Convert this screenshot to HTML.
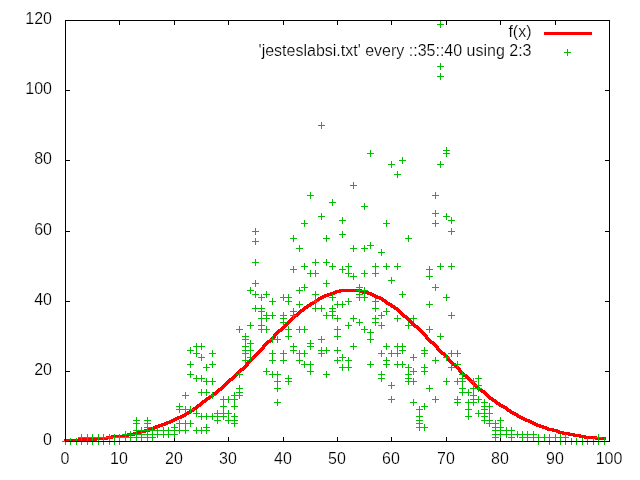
<!DOCTYPE html>
<html><head><meta charset="utf-8"><title>gnuplot</title>
<style>
html,body{margin:0;padding:0;background:#fff;}
body{width:640px;height:480px;overflow:hidden;position:relative;font-family:"Liberation Sans",sans-serif;}
svg{position:absolute;left:0;top:0;display:block;}
text{font-family:"Liberation Sans",sans-serif;font-size:16px;fill:#000;stroke:#fff;stroke-width:0.2px;}
</style></head><body>
<svg width="640" height="480" viewBox="0 0 640 480">
<rect x="0" y="0" width="640" height="480" fill="#fff"/>
<path d="M65.5 441v-4M65.5 21v4M119.5 441v-4M119.5 21v4M174.5 441v-4M174.5 21v4M228.5 441v-4M228.5 21v4M283.5 441v-4M283.5 21v4M337.5 441v-4M337.5 21v4M391.5 441v-4M391.5 21v4M446.5 441v-4M446.5 21v4M500.5 441v-4M500.5 21v4M555.5 441v-4M555.5 21v4M609.5 441v-4M609.5 21v4M66 441.5h4M609 441.5h-4M66 371.5h4M609 371.5h-4M66 301.5h4M609 301.5h-4M66 231.5h4M609 231.5h-4M66 160.5h4M609 160.5h-4M66 90.5h4M609 90.5h-4M66 20.5h4M609 20.5h-4" fill="none" stroke="#000" stroke-width="1" shape-rendering="crispEdges"/>
<path d="M339 289.5h23M335 290.5h29M333 291.5h36M330 292.5h11M360 292.5h12M327 293.5h10M362 293.5h12M324 294.5h11M367 294.5h9M322 295.5h10M370 295.5h8M320 296.5h9M372 296.5h9M318 297.5h8M374 297.5h9M317 298.5h7M376 298.5h8M315 299.5h7M379 299.5h7M314 300.5h6M381 300.5h6M312 301.5h7M382 301.5h6M310 302.5h7M384 302.5h6M309 303.5h7M385 303.5h7M307 304.5h7M386 304.5h7M306 305.5h6M388 305.5h7M304 306.5h7M390 306.5h6M303 307.5h6M391 307.5h7M302 308.5h6M393 308.5h6M300 309.5h6M394 309.5h6M299 310.5h6M396 310.5h5M298 311.5h6M397 311.5h5M297 312.5h5M398 312.5h5M296 313.5h5M399 313.5h5M294 314.5h6M400 314.5h5M293 315.5h6M401 315.5h6M292 316.5h6M402 316.5h6M291 317.5h5M403 317.5h6M290 318.5h5M405 318.5h5M289 319.5h5M406 319.5h5M288 320.5h5M407 320.5h5M287 321.5h5M408 321.5h5M286 322.5h5M409 322.5h5M285 323.5h5M410 323.5h5M284 324.5h5M411 324.5h5M283 325.5h5M412 325.5h6M282 326.5h5M413 326.5h6M281 327.5h5M414 327.5h6M280 328.5h5M416 328.5h5M278 329.5h6M417 329.5h5M277 330.5h6M418 330.5h5M276 331.5h6M419 331.5h5M275 332.5h5M420 332.5h5M274 333.5h5M421 333.5h5M273 334.5h5M422 334.5h5M273 335.5h4M423 335.5h5M272 336.5h4M424 336.5h4M271 337.5h5M425 337.5h4M270 338.5h5M425 338.5h5M269 339.5h5M426 339.5h5M267 340.5h6M427 340.5h5M266 341.5h6M428 341.5h6M265 342.5h6M429 342.5h6M264 343.5h5M430 343.5h6M263 344.5h5M432 344.5h5M262 345.5h5M433 345.5h5M262 346.5h4M434 346.5h5M261 347.5h4M435 347.5h4M260 348.5h5M436 348.5h4M259 349.5h5M436 349.5h5M258 350.5h5M437 350.5h5M257 351.5h5M438 351.5h5M256 352.5h5M439 352.5h6M255 353.5h5M440 353.5h6M254 354.5h5M441 354.5h6M253 355.5h5M443 355.5h5M252 356.5h5M444 356.5h5M251 357.5h5M445 357.5h5M250 358.5h5M446 358.5h4M249 359.5h5M447 359.5h4M248 360.5h5M447 360.5h5M247 361.5h5M448 361.5h5M246 362.5h5M449 362.5h5M246 363.5h4M450 363.5h6M245 364.5h4M451 364.5h6M244 365.5h5M452 365.5h6M243 366.5h5M454 366.5h5M242 367.5h5M455 367.5h5M240 368.5h6M456 368.5h5M239 369.5h6M457 369.5h4M238 370.5h6M458 370.5h4M237 371.5h5M458 371.5h5M236 372.5h5M459 372.5h5M235 373.5h5M460 373.5h5M234 374.5h5M461 374.5h6M233 375.5h5M462 375.5h6M232 376.5h5M463 376.5h6M231 377.5h5M465 377.5h5M229 378.5h6M466 378.5h5M228 379.5h6M467 379.5h5M227 380.5h6M468 380.5h5M226 381.5h5M469 381.5h5M225 382.5h5M470 382.5h5M224 383.5h5M471 383.5h5M223 384.5h5M472 384.5h5M222 385.5h5M473 385.5h5M221 386.5h5M474 386.5h5M220 387.5h5M475 387.5h5M218 388.5h6M476 388.5h6M217 389.5h6M477 389.5h6M216 390.5h6M478 390.5h7M215 391.5h5M480 391.5h6M213 392.5h6M481 392.5h6M212 393.5h6M483 393.5h5M211 394.5h6M484 394.5h5M209 395.5h6M485 395.5h5M208 396.5h6M486 396.5h5M206 397.5h7M487 397.5h6M205 398.5h6M488 398.5h6M204 399.5h6M489 399.5h7M202 400.5h6M491 400.5h6M201 401.5h6M492 401.5h6M200 402.5h6M494 402.5h6M199 403.5h5M495 403.5h6M197 404.5h6M496 404.5h7M196 405.5h6M498 405.5h7M195 406.5h6M499 406.5h8M193 407.5h6M501 407.5h7M192 408.5h6M503 408.5h6M190 409.5h7M505 409.5h6M189 410.5h6M506 410.5h6M187 411.5h7M507 411.5h7M185 412.5h7M509 412.5h7M184 413.5h7M510 413.5h8M182 414.5h7M512 414.5h7M180 415.5h7M514 415.5h7M177 416.5h9M516 416.5h7M175 417.5h9M517 417.5h8M173 418.5h9M519 418.5h8M171 419.5h8M521 419.5h9M169 420.5h8M523 420.5h9M166 421.5h9M525 421.5h9M164 422.5h9M528 422.5h8M161 423.5h10M530 423.5h8M158 424.5h10M532 424.5h9M155 425.5h11M534 425.5h10M153 426.5h10M536 426.5h11M150 427.5h10M539 427.5h10M148 428.5h9M542 428.5h12M144 429.5h11M545 429.5h13M139 430.5h13M547 430.5h13M137 431.5h13M552 431.5h12M133 432.5h13M556 432.5h14M127 433.5h14M558 433.5h17M122 434.5h17M562 434.5h19M111 435.5h24M568 435.5h18M106 436.5h23M573 436.5h24M95 437.5h29M579 437.5h27M78 438.5h35M584 438.5h22M64 439.5h44M595 439.5h11M64 440.5h33M64 441.5h16" fill="none" stroke="#ff0000" stroke-width="1" shape-rendering="crispEdges"/>
<rect x="544" y="32" width="48" height="3" fill="#ff0000" shape-rendering="crispEdges"/>
<path d="M62 441.5h7M65.5 438v7M67 441.5h7M70.5 438v7M73 441.5h7M76.5 438v7M78 441.5h7M81.5 438v7M78 437.5h7M81.5 434v7M84 441.5h7M87.5 438v7M84 437.5h7M87.5 434v7M89 441.5h7M92.5 438v7M89 437.5h7M92.5 434v7M95 441.5h7M98.5 438v7M95 437.5h7M98.5 434v7M100 441.5h7M103.5 438v7M100 437.5h7M103.5 434v7M106 441.5h7M109.5 438v7M106 437.5h7M109.5 434v7M111 441.5h7M114.5 438v7M111 437.5h7M114.5 434v7M116 441.5h7M119.5 438v7M116 437.5h7M119.5 434v7M122 437.5h7M125.5 434v7M122 434.5h7M125.5 431v7M127 437.5h7M130.5 434v7M127 434.5h7M130.5 431v7M133 437.5h7M136.5 434v7M133 434.5h7M136.5 431v7M133 430.5h7M136.5 427v7M133 423.5h7M136.5 420v7M133 420.5h7M136.5 417v7M138 437.5h7M141.5 434v7M138 434.5h7M141.5 431v7M138 430.5h7M141.5 427v7M144 437.5h7M147.5 434v7M144 434.5h7M147.5 431v7M144 430.5h7M147.5 427v7M144 427.5h7M147.5 424v7M144 423.5h7M147.5 420v7M144 420.5h7M147.5 417v7M149 437.5h7M152.5 434v7M149 434.5h7M152.5 431v7M149 430.5h7M152.5 427v7M154 434.5h7M157.5 431v7M154 430.5h7M157.5 427v7M160 434.5h7M163.5 431v7M160 430.5h7M163.5 427v7M165 434.5h7M168.5 431v7M165 430.5h7M168.5 427v7M171 434.5h7M174.5 431v7M171 430.5h7M174.5 427v7M171 427.5h7M174.5 424v7M176 430.5h7M179.5 427v7M176 423.5h7M179.5 420v7M176 409.5h7M179.5 406v7M176 406.5h7M179.5 403v7M182 430.5h7M185.5 427v7M182 423.5h7M185.5 420v7M182 409.5h7M185.5 406v7M182 395.5h7M185.5 392v7M187 423.5h7M190.5 420v7M187 409.5h7M190.5 406v7M187 374.5h7M190.5 371v7M187 364.5h7M190.5 361v7M187 350.5h7M190.5 347v7M193 430.5h7M196.5 427v7M193 413.5h7M196.5 410v7M193 378.5h7M196.5 375v7M193 353.5h7M196.5 350v7M193 346.5h7M196.5 343v7M198 430.5h7M201.5 427v7M198 416.5h7M201.5 413v7M198 392.5h7M201.5 389v7M198 378.5h7M201.5 375v7M198 357.5h7M201.5 354v7M198 346.5h7M201.5 343v7M203 430.5h7M206.5 427v7M203 427.5h7M206.5 424v7M203 416.5h7M206.5 413v7M203 392.5h7M206.5 389v7M203 381.5h7M206.5 378v7M203 367.5h7M206.5 364v7M209 416.5h7M212.5 413v7M209 395.5h7M212.5 392v7M209 381.5h7M212.5 378v7M209 364.5h7M212.5 361v7M209 353.5h7M212.5 350v7M214 420.5h7M217.5 417v7M214 416.5h7M217.5 413v7M214 413.5h7M217.5 410v7M220 416.5h7M223.5 413v7M220 413.5h7M223.5 410v7M220 406.5h7M223.5 403v7M220 399.5h7M223.5 396v7M225 420.5h7M228.5 417v7M225 413.5h7M228.5 410v7M225 399.5h7M228.5 396v7M231 423.5h7M234.5 420v7M231 420.5h7M234.5 417v7M231 416.5h7M234.5 413v7M231 406.5h7M234.5 403v7M231 399.5h7M234.5 396v7M231 395.5h7M234.5 392v7M236 395.5h7M239.5 392v7M236 392.5h7M239.5 389v7M236 388.5h7M239.5 385v7M236 374.5h7M239.5 371v7M236 329.5h7M239.5 326v7M242 360.5h7M245.5 357v7M242 353.5h7M245.5 350v7M242 350.5h7M245.5 347v7M242 346.5h7M245.5 343v7M242 339.5h7M245.5 336v7M242 336.5h7M245.5 333v7M247 357.5h7M250.5 354v7M247 350.5h7M250.5 347v7M247 343.5h7M250.5 340v7M247 325.5h7M250.5 322v7M247 290.5h7M250.5 287v7M252 308.5h7M255.5 305v7M252 294.5h7M255.5 291v7M252 283.5h7M255.5 280v7M252 262.5h7M255.5 259v7M252 241.5h7M255.5 238v7M252 231.5h7M255.5 228v7M258 329.5h7M261.5 326v7M258 325.5h7M261.5 322v7M258 318.5h7M261.5 315v7M258 311.5h7M261.5 308v7M258 308.5h7M261.5 305v7M258 297.5h7M261.5 294v7M263 371.5h7M266.5 368v7M263 329.5h7M266.5 326v7M263 318.5h7M266.5 315v7M263 315.5h7M266.5 312v7M263 294.5h7M266.5 291v7M269 374.5h7M272.5 371v7M269 360.5h7M272.5 357v7M269 353.5h7M272.5 350v7M269 339.5h7M272.5 336v7M269 315.5h7M272.5 312v7M269 301.5h7M272.5 298v7M274 402.5h7M277.5 399v7M274 388.5h7M277.5 385v7M274 381.5h7M277.5 378v7M274 374.5h7M277.5 371v7M274 339.5h7M277.5 336v7M280 360.5h7M283.5 357v7M280 353.5h7M283.5 350v7M280 322.5h7M283.5 319v7M280 318.5h7M283.5 315v7M280 315.5h7M283.5 312v7M280 297.5h7M283.5 294v7M285 381.5h7M288.5 378v7M285 378.5h7M288.5 375v7M285 336.5h7M288.5 333v7M285 329.5h7M288.5 326v7M285 301.5h7M288.5 298v7M285 297.5h7M288.5 294v7M290 350.5h7M293.5 347v7M290 346.5h7M293.5 343v7M290 315.5h7M293.5 312v7M290 311.5h7M293.5 308v7M290 269.5h7M293.5 266v7M290 238.5h7M293.5 235v7M296 360.5h7M299.5 357v7M296 353.5h7M299.5 350v7M296 329.5h7M299.5 326v7M296 304.5h7M299.5 301v7M296 290.5h7M299.5 287v7M296 248.5h7M299.5 245v7M301 364.5h7M304.5 361v7M301 353.5h7M304.5 350v7M301 329.5h7M304.5 326v7M301 287.5h7M304.5 284v7M301 266.5h7M304.5 263v7M301 223.5h7M304.5 220v7M307 371.5h7M310.5 368v7M307 364.5h7M310.5 361v7M307 346.5h7M310.5 343v7M307 343.5h7M310.5 340v7M307 273.5h7M310.5 270v7M307 195.5h7M310.5 192v7M312 308.5h7M315.5 305v7M312 301.5h7M315.5 298v7M312 294.5h7M315.5 291v7M312 273.5h7M315.5 270v7M312 262.5h7M315.5 259v7M318 353.5h7M321.5 350v7M318 350.5h7M321.5 347v7M318 339.5h7M321.5 336v7M318 308.5h7M321.5 305v7M318 216.5h7M321.5 213v7M318 125.5h7M321.5 122v7M323 374.5h7M326.5 371v7M323 350.5h7M326.5 347v7M323 315.5h7M326.5 312v7M323 283.5h7M326.5 280v7M323 262.5h7M326.5 259v7M323 238.5h7M326.5 235v7M329 315.5h7M332.5 312v7M329 311.5h7M332.5 308v7M329 308.5h7M332.5 305v7M329 297.5h7M332.5 294v7M329 266.5h7M332.5 263v7M329 202.5h7M332.5 199v7M334 360.5h7M337.5 357v7M334 350.5h7M337.5 347v7M334 336.5h7M337.5 333v7M334 329.5h7M337.5 326v7M334 318.5h7M337.5 315v7M334 304.5h7M337.5 301v7M339 367.5h7M342.5 364v7M339 357.5h7M342.5 354v7M339 304.5h7M342.5 301v7M339 269.5h7M342.5 266v7M339 234.5h7M342.5 231v7M339 220.5h7M342.5 217v7M345 367.5h7M348.5 364v7M345 360.5h7M348.5 357v7M345 325.5h7M348.5 322v7M345 301.5h7M348.5 298v7M345 273.5h7M348.5 270v7M345 266.5h7M348.5 263v7M350 346.5h7M353.5 343v7M350 318.5h7M353.5 315v7M350 276.5h7M353.5 273v7M350 248.5h7M353.5 245v7M350 185.5h7M353.5 182v7M356 322.5h7M359.5 319v7M356 297.5h7M359.5 294v7M356 294.5h7M359.5 291v7M356 290.5h7M359.5 287v7M356 287.5h7M359.5 284v7M361 329.5h7M364.5 326v7M361 297.5h7M364.5 294v7M361 290.5h7M364.5 287v7M361 273.5h7M364.5 270v7M361 248.5h7M364.5 245v7M361 206.5h7M364.5 203v7M367 364.5h7M370.5 361v7M367 339.5h7M370.5 336v7M367 332.5h7M370.5 329v7M367 245.5h7M370.5 242v7M367 153.5h7M370.5 150v7M372 322.5h7M375.5 319v7M372 318.5h7M375.5 315v7M372 308.5h7M375.5 305v7M372 301.5h7M375.5 298v7M372 273.5h7M375.5 270v7M372 266.5h7M375.5 263v7M378 378.5h7M381.5 375v7M378 374.5h7M381.5 371v7M378 353.5h7M381.5 350v7M378 325.5h7M381.5 322v7M378 315.5h7M381.5 312v7M378 252.5h7M381.5 249v7M383 364.5h7M386.5 361v7M383 360.5h7M386.5 357v7M383 346.5h7M386.5 343v7M383 311.5h7M386.5 308v7M383 266.5h7M386.5 263v7M383 223.5h7M386.5 220v7M388 399.5h7M391.5 396v7M388 385.5h7M391.5 382v7M388 353.5h7M391.5 350v7M388 280.5h7M391.5 277v7M388 164.5h7M391.5 161v7M394 364.5h7M397.5 361v7M394 353.5h7M397.5 350v7M394 346.5h7M397.5 343v7M394 318.5h7M397.5 315v7M394 266.5h7M397.5 263v7M394 174.5h7M397.5 171v7M399 364.5h7M402.5 361v7M399 350.5h7M402.5 347v7M399 346.5h7M402.5 343v7M399 294.5h7M402.5 291v7M399 160.5h7M402.5 157v7M405 381.5h7M408.5 378v7M405 378.5h7M408.5 375v7M405 374.5h7M408.5 371v7M405 367.5h7M408.5 364v7M405 325.5h7M408.5 322v7M405 238.5h7M408.5 235v7M410 402.5h7M413.5 399v7M410 381.5h7M413.5 378v7M410 371.5h7M413.5 368v7M410 357.5h7M413.5 354v7M410 318.5h7M413.5 315v7M416 427.5h7M419.5 424v7M416 423.5h7M419.5 420v7M416 420.5h7M419.5 417v7M416 416.5h7M419.5 413v7M416 409.5h7M419.5 406v7M421 427.5h7M424.5 424v7M421 406.5h7M424.5 403v7M421 371.5h7M424.5 368v7M421 367.5h7M424.5 364v7M421 353.5h7M424.5 350v7M421 350.5h7M424.5 347v7M426 388.5h7M429.5 385v7M426 329.5h7M429.5 326v7M426 304.5h7M429.5 301v7M426 276.5h7M429.5 273v7M426 269.5h7M429.5 266v7M432 399.5h7M435.5 396v7M432 360.5h7M435.5 357v7M432 287.5h7M435.5 284v7M432 223.5h7M435.5 220v7M432 213.5h7M435.5 210v7M432 195.5h7M435.5 192v7M437 336.5h7M440.5 333v7M437 266.5h7M440.5 263v7M437 164.5h7M440.5 161v7M437 76.5h7M440.5 73v7M437 66.5h7M440.5 63v7M437 24.5h7M440.5 21v7M443 381.5h7M446.5 378v7M443 357.5h7M446.5 354v7M443 297.5h7M446.5 294v7M443 216.5h7M446.5 213v7M443 153.5h7M446.5 150v7M443 150.5h7M446.5 147v7M448 367.5h7M451.5 364v7M448 353.5h7M451.5 350v7M448 315.5h7M451.5 312v7M448 266.5h7M451.5 263v7M448 231.5h7M451.5 228v7M448 220.5h7M451.5 217v7M454 402.5h7M457.5 399v7M454 399.5h7M457.5 396v7M454 381.5h7M457.5 378v7M454 364.5h7M457.5 361v7M454 353.5h7M457.5 350v7M459 392.5h7M462.5 389v7M459 388.5h7M462.5 385v7M459 381.5h7M462.5 378v7M459 378.5h7M462.5 375v7M459 374.5h7M462.5 371v7M465 416.5h7M468.5 413v7M465 409.5h7M468.5 406v7M465 402.5h7M468.5 399v7M465 392.5h7M468.5 389v7M470 402.5h7M473.5 399v7M470 399.5h7M473.5 396v7M470 395.5h7M473.5 392v7M470 388.5h7M473.5 385v7M470 381.5h7M473.5 378v7M475 413.5h7M478.5 410v7M475 399.5h7M478.5 396v7M475 388.5h7M478.5 385v7M475 385.5h7M478.5 382v7M475 378.5h7M478.5 375v7M481 420.5h7M484.5 417v7M481 416.5h7M484.5 413v7M481 413.5h7M484.5 410v7M481 409.5h7M484.5 406v7M481 406.5h7M484.5 403v7M481 402.5h7M484.5 399v7M486 423.5h7M489.5 420v7M486 420.5h7M489.5 417v7M486 413.5h7M489.5 410v7M486 406.5h7M489.5 403v7M492 437.5h7M495.5 434v7M492 434.5h7M495.5 431v7M492 430.5h7M495.5 427v7M492 427.5h7M495.5 424v7M492 423.5h7M495.5 420v7M497 434.5h7M500.5 431v7M497 430.5h7M500.5 427v7M497 427.5h7M500.5 424v7M497 420.5h7M500.5 417v7M503 434.5h7M506.5 431v7M503 430.5h7M506.5 427v7M508 437.5h7M511.5 434v7M508 434.5h7M511.5 431v7M508 430.5h7M511.5 427v7M514 434.5h7M517.5 431v7M519 437.5h7M522.5 434v7M519 434.5h7M522.5 431v7M524 437.5h7M527.5 434v7M524 434.5h7M527.5 431v7M530 437.5h7M533.5 434v7M530 434.5h7M533.5 431v7M535 441.5h7M538.5 438v7M535 437.5h7M538.5 434v7M541 437.5h7M544.5 434v7M546 441.5h7M549.5 438v7M546 437.5h7M549.5 434v7M552 437.5h7M555.5 434v7M557 441.5h7M560.5 438v7M557 437.5h7M560.5 434v7M562 441.5h7M565.5 438v7M562 437.5h7M565.5 434v7M568 441.5h7M571.5 438v7M573 441.5h7M576.5 438v7M579 441.5h7M582.5 438v7M584 441.5h7M587.5 438v7M590 441.5h7M593.5 438v7M595 441.5h7M598.5 438v7M595 437.5h7M598.5 434v7M601 441.5h7M604.5 438v7M564 52.5h7M567.5 49v7" fill="none" stroke="#00c000" stroke-width="1" shape-rendering="crispEdges"/>
<path d="M65.5 20.5H609.5V441.5H65.5Z" fill="none" stroke="#000" stroke-width="1" shape-rendering="crispEdges"/>
<text x="52" y="444.7" text-anchor="end">0</text>
<text x="52" y="374.7" text-anchor="end">20</text>
<text x="52" y="304.7" text-anchor="end">40</text>
<text x="52" y="234.7" text-anchor="end">60</text>
<text x="52" y="163.7" text-anchor="end">80</text>
<text x="52" y="93.7" text-anchor="end">100</text>
<text x="52" y="23.7" text-anchor="end">120</text>
<text x="65.0" y="463.7" text-anchor="middle">0</text>
<text x="119.0" y="463.7" text-anchor="middle">10</text>
<text x="174.0" y="463.7" text-anchor="middle">20</text>
<text x="228.0" y="463.7" text-anchor="middle">30</text>
<text x="283.0" y="463.7" text-anchor="middle">40</text>
<text x="337.0" y="463.7" text-anchor="middle">50</text>
<text x="391.0" y="463.7" text-anchor="middle">60</text>
<text x="446.0" y="463.7" text-anchor="middle">70</text>
<text x="500.0" y="463.7" text-anchor="middle">80</text>
<text x="555.0" y="463.7" text-anchor="middle">90</text>
<text x="609.0" y="463.7" text-anchor="middle">100</text>
<text x="531.5" y="36.7" text-anchor="end">f(x)</text>
<text x="531.5" y="55.7" text-anchor="end">'jesteslabsi.txt' every ::35::40 using 2:3</text>
</svg>
</body></html>
